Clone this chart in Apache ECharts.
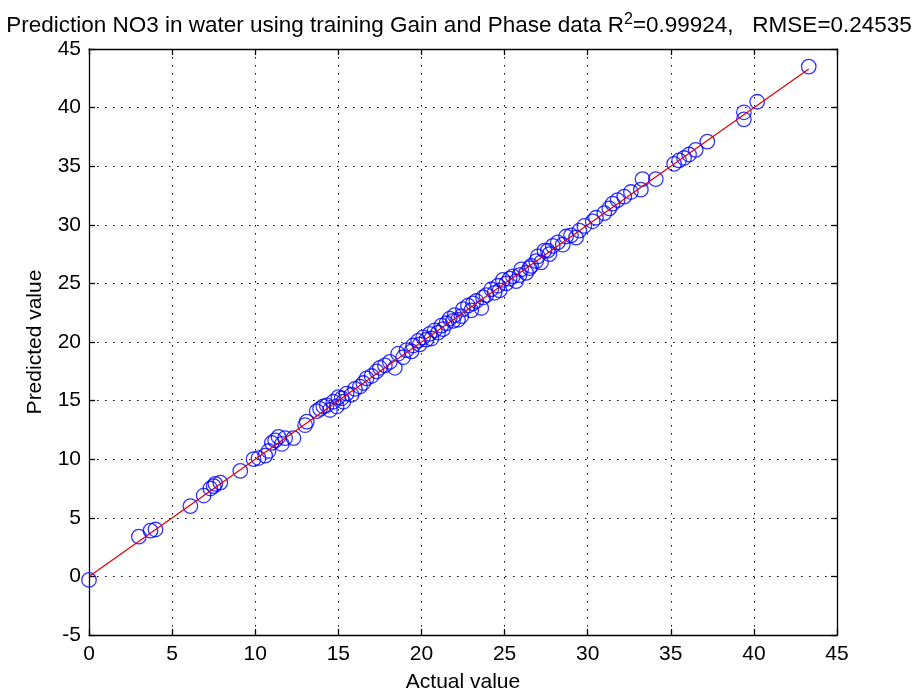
<!DOCTYPE html>
<html>
<head>
<meta charset="utf-8">
<script src="https://cdn.jsdelivr.net/npm/echarts@6/dist/echarts.min.js"></script>
<style>
html,body{margin:0;padding:0;background:#fff;}
#chart{width:918px;height:698px;}
</style>
</head>
<body>
<div id="chart"></div>
<script>
// ---- data ----
var actualValues = [
  0.0, 3.0, 3.7, 4.0, 6.1, 6.9, 7.3, 7.5, 7.6, 7.9,
  9.1, 9.9, 10.2, 10.6, 10.8, 11.0, 11.2, 11.4, 11.6, 11.8,
  12.3, 13.0, 13.1, 13.7, 13.9, 14.1, 14.3, 14.5, 14.7, 14.9,
  15.0, 15.2, 15.3, 15.5, 15.8, 16.0, 16.3, 16.5, 16.7, 17.0,
  17.3, 17.5, 17.8, 18.1, 18.4, 18.6, 18.9, 19.1, 19.4, 19.5,
  19.8, 19.9, 20.1, 20.3, 20.5, 20.6, 20.8, 21.0, 21.2, 21.3,
  21.5, 21.7, 21.9, 22.0, 22.2, 22.4, 22.5, 22.8, 23.0, 23.1,
  23.3, 23.6, 23.7, 23.9, 24.2, 24.4, 24.6, 24.7, 24.9, 25.1,
  25.3, 25.5, 25.7, 25.9, 26.0, 26.3, 26.5, 26.6, 26.9, 27.0,
  27.2, 27.4, 27.6, 27.7, 27.9, 28.2, 28.5, 28.7, 29.0, 29.3,
  29.5, 29.8, 30.3, 30.5, 31.0, 31.3, 31.5, 31.8, 32.2, 32.6,
  33.2, 33.3, 34.1, 35.2, 35.5, 35.8, 36.1, 36.5, 37.2, 39.4,
  39.4, 40.2, 43.3
];
var predictedValues = [
  -0.3, 3.4, 3.9, 4.0, 6.0, 6.9, 7.5, 7.7, 7.9, 8.0,
  9.0, 10.0, 10.1, 10.3, 10.7, 11.4, 11.6, 11.9, 11.3, 11.8,
  11.8, 12.9, 13.2, 14.1, 14.3, 14.5, 14.6, 14.2, 14.9, 14.5,
  15.3, 15.2, 14.9, 15.6, 15.5, 16.0, 16.2, 16.5, 16.9, 17.1,
  17.5, 17.8, 18.0, 18.3, 17.8, 19.0, 18.7, 19.3, 19.2, 19.7,
  20.1, 19.8, 20.4, 20.2, 20.7, 20.3, 21.0, 20.8, 21.4, 21.1,
  21.6, 22.0, 21.8, 22.3, 21.9, 22.2, 22.8, 23.1, 22.7, 23.3,
  23.5, 22.9, 23.8, 24.0, 24.5, 24.2, 24.8, 24.4, 25.3, 25.0,
  25.4, 25.6, 25.2, 25.7, 26.2, 25.9, 26.3, 26.5, 26.9, 27.3,
  26.8, 27.8, 27.8, 27.5, 28.2, 28.5, 28.3, 29.0, 29.1, 28.9,
  29.5, 29.9, 30.3, 30.6, 31.0, 31.4, 31.8, 32.1, 32.4, 32.8,
  33.0, 33.9, 33.9, 35.2, 35.5, 35.7, 36.0, 36.4, 37.1, 39.0,
  39.6, 40.5, 43.5
];
var lineX = [0, 43.3];
var xTickLabels = [0, 5, 10, 15, 20, 25, 30, 35, 40, 45];
var yTickLabels = [-5, 0, 5, 10, 15, 20, 25, 30, 35, 40, 45];
var titleText = 'Prediction NO3 in water using training Gain and Phase data R{sup|2}=0.99924,   RMSE=0.24535';
var xName = 'Actual value';
var yName = 'Predicted value';

// ---- build ----
var scatterData = actualValues.map(function (a, i) { return [a, predictedValues[i]]; });
var lineData = lineX.map(function (v) { return [v, v]; });

var FONT = '"Liberation Sans", Arial, Helvetica, sans-serif';
var xMin = xTickLabels[0], xMax = xTickLabels[xTickLabels.length - 1], xInt = xTickLabels[1] - xTickLabels[0];
var yMin = yTickLabels[0], yMax = yTickLabels[yTickLabels.length - 1], yInt = yTickLabels[1] - yTickLabels[0];

var gridLine = { show: true, lineStyle: { color: '#000', width: 1, type: [1.5, 6.5] } };
var axisLineStyle = { show: true, onZero: false, lineStyle: { color: '#000', width: 1.3 } };
var tickStyle = { show: true, inside: true, length: 6, lineStyle: { color: '#000', width: 1.3 } };

function mainX() {
  return {
    type: 'value', position: 'bottom', min: xMin, max: xMax, interval: xInt,
    name: xName, nameLocation: 'middle', nameGap: 37,
    nameTextStyle: { fontFamily: FONT, fontSize: 21, color: '#000' },
    axisLine: axisLineStyle, axisTick: tickStyle,
    axisLabel: { show: true, margin: 9, fontFamily: FONT, fontSize: 21, color: '#000' },
    splitLine: gridLine
  };
}
function mainY() {
  return {
    type: 'value', position: 'left', min: yMin, max: yMax, interval: yInt,
    name: yName, nameLocation: 'middle', nameGap: 43, nameRotate: 90,
    nameTextStyle: { fontFamily: FONT, fontSize: 21, color: '#000' },
    axisLine: axisLineStyle, axisTick: tickStyle,
    axisLabel: { show: true, margin: 8, fontFamily: FONT, fontSize: 21, color: '#000' },
    splitLine: gridLine
  };
}

var option = {
  backgroundColor: '#fff',
  animation: false,
  title: {
    text: titleText,
    left: 'center',
    top: 7,
    textStyle: {
      fontFamily: FONT, fontSize: 22.5, lineHeight: 28, fontWeight: 'normal', color: '#000',
      rich: {
        sup: { fontFamily: FONT, fontSize: 16, lineHeight: 16, color: '#000', verticalAlign: 'top' }
      }
    }
  },
  grid: { left: 89, right: 81, top: 49, bottom: 60, containLabel: false },
  xAxis: [
    mainX(),
    { type: 'value', position: 'top', min: xMin, max: xMax, interval: xInt,
      axisLine: axisLineStyle, axisTick: tickStyle, axisLabel: { show: false }, splitLine: { show: false } }
  ],
  yAxis: [
    mainY(),
    { type: 'value', position: 'right', min: yMin, max: yMax, interval: yInt,
      axisLine: axisLineStyle, axisTick: tickStyle, axisLabel: { show: false }, splitLine: { show: false } }
  ],
  series: [
    {
      type: 'scatter', xAxisIndex: 0, yAxisIndex: 0,
      data: scatterData, symbol: 'circle', symbolSize: 14.5,
      itemStyle: { color: 'rgba(0,0,0,0)', borderColor: '#0000ff', borderWidth: 1.3 },
      z: 2
    },
    {
      type: 'line', xAxisIndex: 0, yAxisIndex: 0,
      data: lineData, showSymbol: false, symbol: 'none',
      lineStyle: { color: '#e00000', width: 1.2 },
      z: 3
    }
  ]
};

var chart = echarts.init(document.getElementById('chart'), null, { renderer: 'canvas' });
chart.setOption(option);
</script>
</body>
</html>
